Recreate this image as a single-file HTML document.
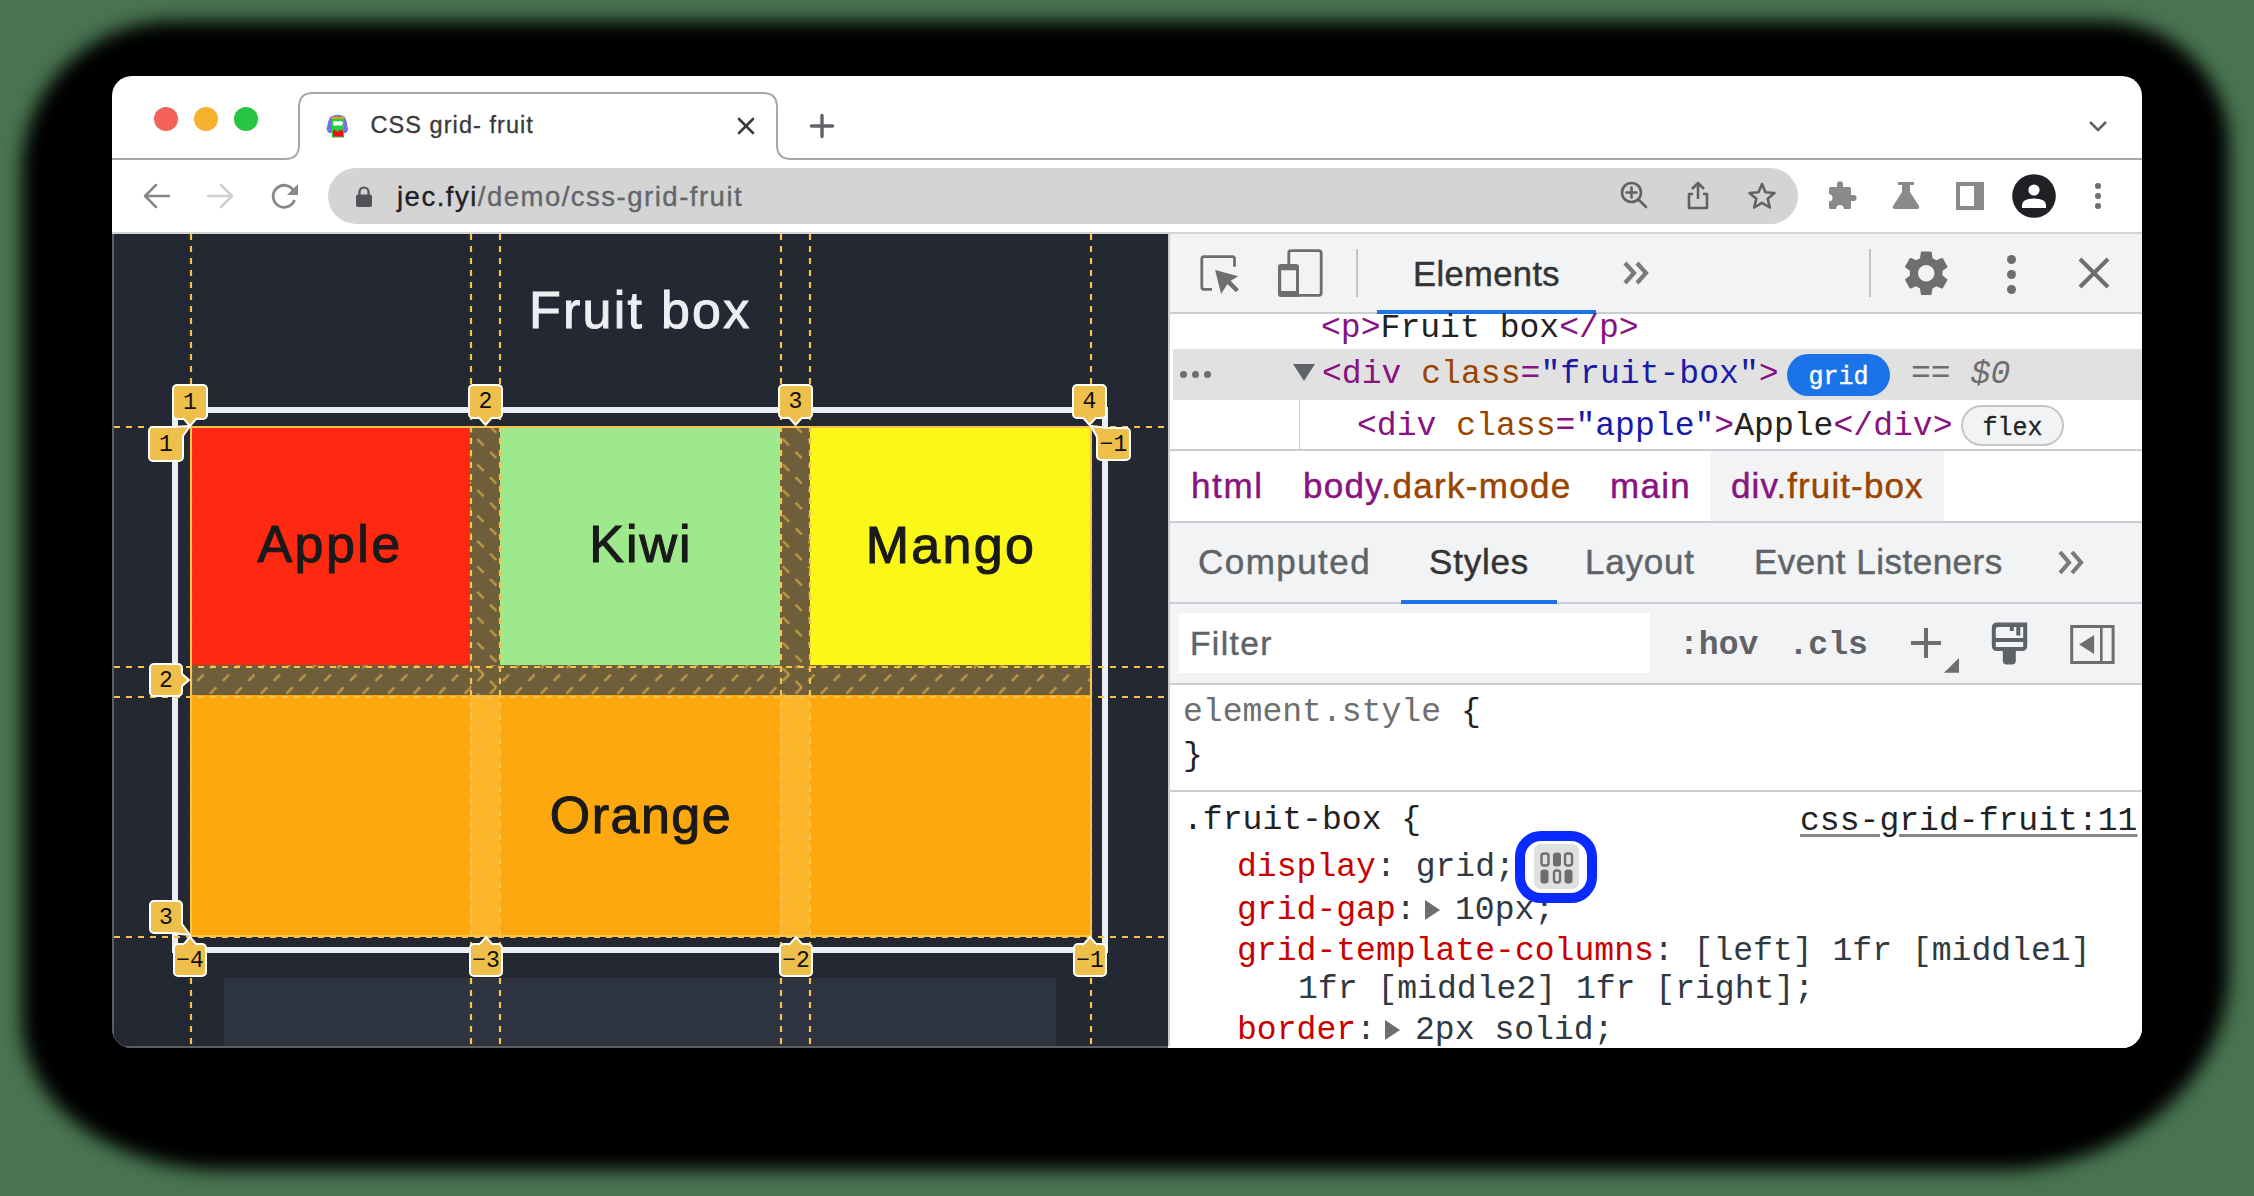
<!DOCTYPE html>
<html><head><meta charset="utf-8">
<style>
html,body{margin:0;padding:0;}
body{width:2254px;height:1196px;position:relative;overflow:hidden;background:#487450;font-family:'Liberation Sans', sans-serif;}
.t{position:absolute;white-space:pre;line-height:1;}
.r{position:absolute;}
svg{position:absolute;overflow:visible;}
#win{position:absolute;left:0;top:0;width:2254px;height:1196px;clip-path:inset(76px 112px 148px 112px round 20px);background:#fff;}
</style></head><body>
<div style="position:absolute;left:22px;top:21px;width:2207px;height:1149px;border-radius:150px 125px 230px 200px / 150px 125px 200px 150px;background:#000;filter:blur(9px);"></div><div id="win"><div class="r" style="left:154px;top:107px;width:24px;height:24px;border-radius:50%;background:#f2625a"></div><div class="r" style="left:194px;top:107px;width:24px;height:24px;border-radius:50%;background:#f6b12e"></div><div class="r" style="left:234px;top:107px;width:24px;height:24px;border-radius:50%;background:#28c540"></div><svg style="left:0;top:0" width="2254" height="240"><path d="M112 159 H285 Q299 159 299 145 V107 Q299 93 313 93 H763 Q777 93 777 107 V145 Q777 159 791 159 H2142" fill="none" stroke="#a7a7ab" stroke-width="2"/></svg><svg style="left:0;top:0" width="400" height="160">
<path d="M330 117 Q337.5 112.5 345 117 Q347 121 347.5 127 Q349 130 346 133 L329 133 Q325.5 130 327 127 Q328 121 330 117 Z" fill="#7272e0"/>
<rect x="331" y="116.5" width="13.5" height="2.5" fill="#d9a030"/>
<path d="M331.5 119 H344 V137.5 H332 Z" fill="#22d040"/>
<ellipse cx="335.6" cy="123.4" rx="2.6" ry="2.3" fill="#fff"/><ellipse cx="340.2" cy="123.4" rx="2.6" ry="2.3" fill="#fff"/>
<path d="M333 130.3 L335 130 L337.5 132 L340 130 L343 130.3 V136.5 H333 Z" fill="#f01010"/>
</svg><div class="t" style="left:370.50px;top:113.91px;font-size:23.5px;font-family:'Liberation Sans', sans-serif;color:#3b3b3b;letter-spacing:1.06px;-webkit-text-stroke:0.35px currentColor">CSS grid- fruit</div><svg style="left:738px;top:118px" width="16" height="16"><path d="M1 1 L15 15 M15 1 L1 15" stroke="#3a3a3a" stroke-width="2.6" stroke-linecap="round"/></svg><svg style="left:810px;top:114px" width="24" height="24"><path d="M12 1.5 V22.5 M1.5 12 H22.5" stroke="#5f6368" stroke-width="3.4" stroke-linecap="round"/></svg><svg style="left:2089px;top:121px" width="18" height="11"><path d="M1 1 L9 9 L17 1" fill="none" stroke="#5f6368" stroke-width="2.6"/></svg><svg style="left:143px;top:183px" width="27" height="26"><path d="M26 13 H3 M13 2 L2 13 L13 24" fill="none" stroke="#868686" stroke-width="2.5" stroke-linecap="round" stroke-linejoin="round"/></svg><svg style="left:207px;top:183px" width="27" height="26"><path d="M1 13 H24 M14 2 L25 13 L14 24" fill="none" stroke="#d0d0d0" stroke-width="2.5" stroke-linecap="round" stroke-linejoin="round"/></svg><svg style="left:270px;top:182px" width="30" height="28"><path d="M23.5 8.5 A11 11 0 1 0 24.5 18" fill="none" stroke="#888888" stroke-width="2.8"/><path d="M28 2 V13 H17 Z" fill="#888888"/></svg><div class="r" style="left:328px;top:168px;width:1470px;height:56px;background:#d4d4d4;border-radius:28px"></div><svg style="left:355px;top:185px" width="18" height="23"><path d="M4.5 10 V7 A4.5 4.5 0 0 1 13.5 7 V10" fill="none" stroke="#505359" stroke-width="2.2"/><rect x="1" y="9.5" width="16" height="12.5" rx="2" fill="#505359"/></svg><div class="t" style="left:397.00px;top:182.72px;font-size:27.5px;font-family:'Liberation Sans', sans-serif;color:#62666b;letter-spacing:1.5px;-webkit-text-stroke:0.35px currentColor"><span style="color:#202124">jec.fyi</span>/demo/css-grid-fruit</div><svg style="left:1620px;top:181px" width="29" height="30"><circle cx="11.5" cy="11.5" r="9.5" fill="none" stroke="#5f6368" stroke-width="2.6"/><path d="M18.5 18.5 L26 26 M11.5 6.5 V16.5 M6.5 11.5 H16.5" stroke="#5f6368" stroke-width="2.6" stroke-linecap="round"/></svg><svg style="left:1686px;top:181px" width="25" height="30"><path d="M12 2 V18 M6 8 L12 2 L18 8" fill="none" stroke="#5f6368" stroke-width="2.6" stroke-linejoin="round"/><path d="M7 13 H3 V27 H21 V13 H17" fill="none" stroke="#5f6368" stroke-width="2.6" stroke-linejoin="round"/></svg><svg style="left:1747px;top:181px" width="30" height="30"><path d="M15 3 L18.5 11.3 L27.5 12 L20.7 17.8 L22.8 26.5 L15 21.8 L7.2 26.5 L9.3 17.8 L2.5 12 L11.5 11.3 Z" fill="none" stroke="#5f6368" stroke-width="2.6" stroke-linejoin="round"/></svg><svg style="left:0;top:0" width="2254" height="240"><path d="M1829 188.5 Q1829 187 1830.5 187 H1837 V184.2 A3 3 0 0 1 1843 184.2 V187 H1849.5 Q1851 187 1851 188.5 V195 H1853.6 A3 3 0 0 1 1853.6 201 H1851 V207.5 Q1851 209 1849.5 209 H1843.9 A3.9 3.9 0 0 0 1836.1 209 H1830.5 Q1829 209 1829 207.5 V201.4 A3.55 3.55 0 0 0 1829 194.3 Z" fill="#8a8a8a"/></svg><svg style="left:1891px;top:181px" width="30" height="29"><path d="M7 1 H23 V4 H19 V11 L28 25 Q29 28 26 28 H4 Q1 28 2 25 L11 11 V4 H7 Z" fill="#8a8a8a"/></svg><svg style="left:0;top:0" width="2254" height="240"><path d="M1956 182 H1984 V210 H1956 Z M1960 186 V206 H1974 V186 Z" fill="#8a8a8a" fill-rule="evenodd"/></svg><svg style="left:2012px;top:174px" width="44" height="44"><circle cx="22" cy="22" r="21.8" fill="#202124"/><circle cx="22" cy="16" r="5.6" fill="#fff"/><path d="M10 31 Q10 24.5 22 24.5 Q34 24.5 34 31 V34 H10 Z" fill="#fff"/></svg><div class="r" style="left:2095px;top:183.2px;width:5.6px;height:5.6px;border-radius:50%;background:#6f6f6f"></div><div class="r" style="left:2095px;top:193.2px;width:5.6px;height:5.6px;border-radius:50%;background:#6f6f6f"></div><div class="r" style="left:2095px;top:203.2px;width:5.6px;height:5.6px;border-radius:50%;background:#6f6f6f"></div><div class="r" style="left:112px;top:232px;width:2030px;height:2px;background:#d3d3d3;"></div><div class="r" style="left:112px;top:234px;width:1056px;height:814px;background:#242833;"></div><div class="r" style="left:112px;top:234px;width:2px;height:814px;background:#5a5e66;"></div><div class="r" style="left:112px;top:1046px;width:1056px;height:2px;background:#5a5e66;"></div><div class="t" style="left:529.00px;top:283.68px;font-size:52px;font-family:'Liberation Sans', sans-serif;color:#eeeef2;letter-spacing:2.25px;-webkit-text-stroke:1px #eeeef2">Fruit box</div><div class="r" style="left:224px;top:978px;width:832px;height:68px;background:#2e3340;"></div><div class="r" style="left:172px;top:407px;width:924px;height:534px;border:6px solid #eceef3"></div><div class="r" style="left:190px;top:426px;width:280px;height:239px;background:#ff2810;"></div><div class="r" style="left:500px;top:426px;width:280px;height:239px;background:#9de98b;"></div><div class="r" style="left:810px;top:426px;width:281px;height:239px;background:#fbf719;"></div><div class="r" style="left:190px;top:695px;width:901px;height:240px;background:#fda80f;"></div><div class="t" style="left:-70px;width:800px;text-align:center;top:518.48px;font-size:52px;color:#1a1a1a;letter-spacing:2.4px;-webkit-text-stroke:1.1px #1a1a1a">Apple</div><div class="t" style="left:241px;width:800px;text-align:center;top:517.98px;font-size:52px;color:#1a1a1a;letter-spacing:2px;-webkit-text-stroke:1.1px #1a1a1a">Kiwi</div><div class="t" style="left:551px;width:800px;text-align:center;top:518.98px;font-size:52px;color:#1a1a1a;letter-spacing:2.3px;-webkit-text-stroke:1.1px #1a1a1a">Mango</div><div class="t" style="left:241px;width:800px;text-align:center;top:788.68px;font-size:52px;color:#1a1a1a;letter-spacing:1.5px;-webkit-text-stroke:1.1px #1a1a1a">Orange</div><div class="r" style="left:470px;top:426px;width:30px;height:239px;background:rgba(240,190,70,0.36);"></div><div class="r" style="left:780px;top:426px;width:30px;height:239px;background:rgba(240,190,70,0.36);"></div><div class="r" style="left:190px;top:665px;width:901px;height:30px;background:rgba(240,190,70,0.36);"></div><div class="r" style="left:470px;top:695px;width:30px;height:240px;background:rgba(255,215,110,0.28);"></div><div class="r" style="left:780px;top:695px;width:30px;height:240px;background:rgba(255,215,110,0.28);"></div><svg style="left:0;top:0" width="2254" height="1196">
<defs>
<pattern id="hc" width="18" height="18" patternUnits="userSpaceOnUse" patternTransform="rotate(45)">
<line x1="0" y1="9" x2="18" y2="9" stroke="rgba(240,190,80,0.6)" stroke-width="2.4" stroke-dasharray="9 9"/></pattern>
<pattern id="hr" width="18" height="18" patternUnits="userSpaceOnUse" patternTransform="rotate(-45)">
<line x1="0" y1="9" x2="18" y2="9" stroke="rgba(240,190,80,0.6)" stroke-width="2.4" stroke-dasharray="9 9"/></pattern>
</defs>
<rect x="470" y="426" width="30" height="509" fill="url(#hc)"/>
<rect x="780" y="426" width="30" height="509" fill="url(#hc)"/>
<rect x="190" y="665" width="901" height="30" fill="url(#hr)"/>
</svg><svg style="left:0;top:0" width="2254" height="1196"><line x1="191" y1="234" x2="191" y2="1046" stroke="#f5c24a" stroke-width="2.2" stroke-dasharray="6 6"/><line x1="471" y1="234" x2="471" y2="1046" stroke="#f5c24a" stroke-width="2.2" stroke-dasharray="6 6"/><line x1="500" y1="234" x2="500" y2="1046" stroke="#f5c24a" stroke-width="2.2" stroke-dasharray="6 6"/><line x1="781" y1="234" x2="781" y2="1046" stroke="#f5c24a" stroke-width="2.2" stroke-dasharray="6 6"/><line x1="810" y1="234" x2="810" y2="1046" stroke="#f5c24a" stroke-width="2.2" stroke-dasharray="6 6"/><line x1="1091" y1="234" x2="1091" y2="1046" stroke="#f5c24a" stroke-width="2.2" stroke-dasharray="6 6"/><line x1="114" y1="427" x2="1168" y2="427" stroke="#f5c24a" stroke-width="2.2" stroke-dasharray="6 6"/><line x1="114" y1="667" x2="1168" y2="667" stroke="#f5c24a" stroke-width="2.2" stroke-dasharray="6 6"/><line x1="114" y1="697" x2="1168" y2="697" stroke="#f5c24a" stroke-width="2.2" stroke-dasharray="6 6"/><line x1="114" y1="937" x2="1168" y2="937" stroke="#f5c24a" stroke-width="2.2" stroke-dasharray="6 6"/><rect x="191" y="427" width="900" height="509" fill="none" stroke="#f5c24a" stroke-width="2"/></svg><div class="r" style="left:172px;top:384px;width:32px;height:32px;background:#efbf4c;border:2px solid #fff;border-radius:5px;"></div><svg style="left:0;top:0" width="2254" height="1196"><path d="M183.0 418 L190.0 426 L197.0 418" fill="#efbf4c" stroke="#fff" stroke-width="2"/><rect x="184.0" y="415" width="12" height="3.5" fill="#efbf4c"/></svg><div class="t" style="left:172px;width:36px;text-align:center;top:390.70px;font-size:23px;font-family:'Liberation Mono', monospace;color:#111;line-height:1.1">1</div><div class="r" style="left:468px;top:384px;width:31px;height:31px;background:#efbf4c;border:2px solid #fff;border-radius:5px;"></div><svg style="left:0;top:0" width="2254" height="1196"><path d="M478.5 417 L485.5 425 L492.5 417" fill="#efbf4c" stroke="#fff" stroke-width="2"/><rect x="479.5" y="414" width="12" height="3.5" fill="#efbf4c"/></svg><div class="t" style="left:468px;width:35px;text-align:center;top:390.20px;font-size:23px;font-family:'Liberation Mono', monospace;color:#111;line-height:1.1">2</div><div class="r" style="left:778px;top:384px;width:31px;height:31px;background:#efbf4c;border:2px solid #fff;border-radius:5px;"></div><svg style="left:0;top:0" width="2254" height="1196"><path d="M788.5 417 L795.5 425 L802.5 417" fill="#efbf4c" stroke="#fff" stroke-width="2"/><rect x="789.5" y="414" width="12" height="3.5" fill="#efbf4c"/></svg><div class="t" style="left:778px;width:35px;text-align:center;top:390.20px;font-size:23px;font-family:'Liberation Mono', monospace;color:#111;line-height:1.1">3</div><div class="r" style="left:1072px;top:384px;width:31px;height:31px;background:#efbf4c;border:2px solid #fff;border-radius:5px;"></div><svg style="left:0;top:0" width="2254" height="1196"><path d="M1082.5 417 L1089.5 425 L1096.5 417" fill="#efbf4c" stroke="#fff" stroke-width="2"/><rect x="1083.5" y="414" width="12" height="3.5" fill="#efbf4c"/></svg><div class="t" style="left:1072px;width:35px;text-align:center;top:390.20px;font-size:23px;font-family:'Liberation Mono', monospace;color:#111;line-height:1.1">4</div><div class="r" style="left:148px;top:426px;width:32px;height:32px;background:#efbf4c;border:2px solid #fff;border-radius:5px;"></div><svg style="left:0;top:0" width="2254" height="1196"><path d="M172 427 L190 426 L183 436" fill="#efbf4c" stroke="#fff" stroke-width="2" stroke-linejoin="round"/></svg><div class="t" style="left:148px;width:36px;text-align:center;top:432.70px;font-size:23px;font-family:'Liberation Mono', monospace;color:#111;line-height:1.1">1</div><div class="r" style="left:149px;top:663px;width:30px;height:30px;background:#efbf4c;border:2px solid #fff;border-radius:5px;"></div><svg style="left:0;top:0" width="2254" height="1196"><path d="M181 673.0 L189 680.0 L181 687.0" fill="#efbf4c" stroke="#fff" stroke-width="2"/><rect x="178" y="674.0" width="3.5" height="12" fill="#efbf4c"/></svg><div class="t" style="left:149px;width:34px;text-align:center;top:668.70px;font-size:23px;font-family:'Liberation Mono', monospace;color:#111;line-height:1.1">2</div><div class="r" style="left:149px;top:900px;width:30px;height:30px;background:#efbf4c;border:2px solid #fff;border-radius:5px;"></div><svg style="left:0;top:0" width="2254" height="1196"><path d="M171 933 L190 935 L182 924" fill="#efbf4c" stroke="#fff" stroke-width="2" stroke-linejoin="round"/></svg><div class="t" style="left:149px;width:34px;text-align:center;top:905.70px;font-size:23px;font-family:'Liberation Mono', monospace;color:#111;line-height:1.1">3</div><div class="r" style="left:1096px;top:427px;width:31px;height:30px;background:#efbf4c;border:2px solid #fff;border-radius:5px;"></div><svg style="left:0;top:0" width="2254" height="1196"><path d="M1108 428 L1091 426 L1097 437" fill="#efbf4c" stroke="#fff" stroke-width="2" stroke-linejoin="round"/></svg><div class="t" style="left:1096px;width:35px;text-align:center;top:432.70px;font-size:23px;font-family:'Liberation Mono', monospace;color:#111;line-height:1.1">&minus;1</div><div class="r" style="left:173px;top:943px;width:30px;height:30px;background:#efbf4c;border:2px solid #fff;border-radius:5px;"></div><svg style="left:0;top:0" width="2254" height="1196"><path d="M183.0 945 L190.0 937 L197.0 945" fill="#efbf4c" stroke="#fff" stroke-width="2"/><rect x="184.0" y="944.5" width="12" height="3.5" fill="#efbf4c"/></svg><div class="t" style="left:173px;width:34px;text-align:center;top:948.70px;font-size:23px;font-family:'Liberation Mono', monospace;color:#111;line-height:1.1">&minus;4</div><div class="r" style="left:469px;top:943px;width:30px;height:30px;background:#efbf4c;border:2px solid #fff;border-radius:5px;"></div><svg style="left:0;top:0" width="2254" height="1196"><path d="M479.0 945 L486.0 937 L493.0 945" fill="#efbf4c" stroke="#fff" stroke-width="2"/><rect x="480.0" y="944.5" width="12" height="3.5" fill="#efbf4c"/></svg><div class="t" style="left:469px;width:34px;text-align:center;top:948.70px;font-size:23px;font-family:'Liberation Mono', monospace;color:#111;line-height:1.1">&minus;3</div><div class="r" style="left:779px;top:943px;width:30px;height:30px;background:#efbf4c;border:2px solid #fff;border-radius:5px;"></div><svg style="left:0;top:0" width="2254" height="1196"><path d="M789.0 945 L796.0 937 L803.0 945" fill="#efbf4c" stroke="#fff" stroke-width="2"/><rect x="790.0" y="944.5" width="12" height="3.5" fill="#efbf4c"/></svg><div class="t" style="left:779px;width:34px;text-align:center;top:948.70px;font-size:23px;font-family:'Liberation Mono', monospace;color:#111;line-height:1.1">&minus;2</div><div class="r" style="left:1073px;top:943px;width:30px;height:30px;background:#efbf4c;border:2px solid #fff;border-radius:5px;"></div><svg style="left:0;top:0" width="2254" height="1196"><path d="M1083.0 945 L1090.0 937 L1097.0 945" fill="#efbf4c" stroke="#fff" stroke-width="2"/><rect x="1084.0" y="944.5" width="12" height="3.5" fill="#efbf4c"/></svg><div class="t" style="left:1073px;width:34px;text-align:center;top:948.70px;font-size:23px;font-family:'Liberation Mono', monospace;color:#111;line-height:1.1">&minus;1</div><div class="r" style="left:1168px;top:234px;width:2px;height:812px;background:#cbcdd1;"></div><div class="r" style="left:1170px;top:234px;width:972px;height:814px;background:#ffffff;"></div><div class="r" style="left:1170px;top:234px;width:972px;height:78px;background:#f1f3f4;"></div><div class="r" style="left:1170px;top:312px;width:972px;height:2px;background:#cacdd1;"></div><svg style="left:0;top:0" width="2254" height="400">
<path d="M1212 289.3 H1204 Q1201.8 289.3 1201.8 287.1 V258.8 Q1201.8 256.6 1204 256.6 H1232.3 Q1234.5 256.6 1234.5 258.8 V266.8" fill="none" stroke="#6e6e6e" stroke-width="2.8"/>
<path d="M1215.1 270 L1238.3 276.3 L1230.6 280.8 L1238.9 289.3 L1235.9 292.3 L1227.4 283.9 L1221.1 293.9 Z" fill="#6e6e6e"/>
<path d="M1288.8 264.5 V252.2 Q1288.8 250.6 1291.8 250.6 H1318.8 Q1321.2 250.6 1321.2 253 V292.9 Q1321.2 295.3 1318.8 295.3 H1298" fill="none" stroke="#6e6e6e" stroke-width="2.8"/>
<path d="M1281 264 H1296 Q1299 264 1299 267 V297 H1281 Q1278 297 1278 294 V267 Q1278 264 1281 264 Z M1281.2 270.2 V290.9 H1296 V270.2 Z" fill="#6e6e6e" fill-rule="evenodd"/>
</svg><div class="r" style="left:1356px;top:249px;width:2px;height:48px;background:#c4c4c4;"></div><div class="t" style="left:1413.00px;top:256.80px;font-size:34.5px;font-family:'Liberation Sans', sans-serif;color:#333333;letter-spacing:0.4px;-webkit-text-stroke:0.45px #333">Elements</div><div class="r" style="left:1377px;top:310px;width:219px;height:4px;background:#1a73e8;"></div><svg style="left:1622px;top:261px" width="28" height="25"><path d="M3 2 L12 12 L3 22 M15 2 L24 12 L15 22" fill="none" stroke="#7a7a7a" stroke-width="4.2"/></svg><div class="r" style="left:1869px;top:249px;width:2px;height:48px;background:#c4c4c4;"></div><svg style="left:1898.75px;top:245.75px" width="54.5" height="54.5" viewBox="0 0 24 24"><path fill="#6e6e6e" d="M19.14 12.94c.04-.3.06-.61.06-.94 0-.32-.02-.64-.07-.94l2.03-1.58a.49.49 0 0 0 .12-.61l-1.92-3.32a.488.488 0 0 0-.59-.22l-2.39.96c-.5-.38-1.03-.7-1.62-.94l-.36-2.54a.484.484 0 0 0-.48-.41h-3.84c-.24 0-.43.17-.47.41l-.36 2.54c-.59.24-1.13.57-1.62.94l-2.39-.96c-.22-.08-.47 0-.59.22L2.74 8.87c-.12.21-.08.47.12.61l2.03 1.58c-.05.3-.09.63-.09.94s.02.64.07.94l-2.03 1.58a.49.49 0 0 0-.12.61l1.92 3.32c.12.22.37.29.59.22l2.39-.96c.5.38 1.03.7 1.62.94l.36 2.54c.05.24.24.41.48.41h3.84c.24 0 .44-.17.47-.41l.36-2.54c.59-.24 1.13-.56 1.62-.94l2.39.96c.22.08.47 0 .59-.22l1.92-3.32c.12-.22.07-.47-.12-.61l-2.01-1.58zM12 15.6c-1.98 0-3.6-1.62-3.6-3.6s1.62-3.6 3.6-3.6 3.6 1.62 3.6 3.6-1.62 3.6-3.6 3.6z"/></svg><div class="r" style="left:2006.5px;top:255.0px;width:9px;height:9px;border-radius:50%;background:#6e6e6e"></div><div class="r" style="left:2006.5px;top:270.0px;width:9px;height:9px;border-radius:50%;background:#6e6e6e"></div><div class="r" style="left:2006.5px;top:285.0px;width:9px;height:9px;border-radius:50%;background:#6e6e6e"></div><svg style="left:2078px;top:257px" width="32" height="32"><path d="M2 2 L30 30 M30 2 L2 30" stroke="#6e6e6e" stroke-width="4"/></svg><div class="t" style="left:1321.00px;top:312.23px;font-size:33.1px;font-family:'Liberation Mono', monospace;color:#222222;"><span style="color:#881280">&lt;p&gt;</span>Fruit box<span style="color:#881280">&lt;/p&gt;</span></div><div class="r" style="left:1173px;top:349px;width:969px;height:51px;background:#e1e1e1;"></div><div class="r" style="left:1179.7px;top:371px;width:7px;height:7px;border-radius:50%;background:#6e6e6e"></div><div class="r" style="left:1191.7px;top:371px;width:7px;height:7px;border-radius:50%;background:#6e6e6e"></div><div class="r" style="left:1203.6px;top:371px;width:7px;height:7px;border-radius:50%;background:#6e6e6e"></div><svg style="left:1292px;top:363px" width="24" height="19"><path d="M1 1 H23 L12 18 Z" fill="#5f6368"/></svg><div class="t" style="left:1322.00px;top:357.63px;font-size:33.1px;font-family:'Liberation Mono', monospace;color:#222222;"><span style="color:#881280">&lt;div</span> <span style="color:#994500">class</span><span style="color:#881280">=</span><span style="color:#1a1aa6">"fruit-box"</span><span style="color:#881280">&gt;</span></div><div class="r" style="left:1787px;top:354px;width:103px;height:42px;background:#1a73e8;border-radius:21px"></div><div class="t" style="left:1787px;width:103px;text-align:center;top:364.64px;font-size:25px;font-family:'Liberation Mono', monospace;color:#fff;-webkit-text-stroke:0.4px #fff">grid</div><div class="t" style="left:1911.00px;top:357.63px;font-size:33.1px;font-family:'Liberation Mono', monospace;color:#6e6e6e;">== <i>$0</i></div><div class="r" style="left:1299px;top:400px;width:1px;height:49px;background:#c8c8e0;"></div><div class="t" style="left:1357.00px;top:409.63px;font-size:33.1px;font-family:'Liberation Mono', monospace;color:#222222;"><span style="color:#881280">&lt;div</span> <span style="color:#994500">class</span><span style="color:#881280">=</span><span style="color:#1a1aa6">"apple"</span><span style="color:#881280">&gt;</span>Apple<span style="color:#881280">&lt;/div&gt;</span></div><div class="r" style="left:1961px;top:405px;width:99px;height:37px;border:2px solid #c6c6c6;border-radius:21px;background:#f1f3f4"></div><div class="t" style="left:1961px;width:103px;text-align:center;top:415.64px;font-size:25px;font-family:'Liberation Mono', monospace;color:#222;-webkit-text-stroke:0.3px #222">flex</div><div class="r" style="left:1170px;top:449px;width:972px;height:2px;background:#cacdd1;"></div><div class="r" style="left:1710px;top:451px;width:234px;height:70px;background:#f1f3f4;"></div><div class="t" style="left:1191.00px;top:468.37px;font-size:35px;font-family:'Liberation Sans', sans-serif;color:#881280;letter-spacing:1.6px;-webkit-text-stroke:0.45px currentColor">html</div><div class="t" style="left:1303.00px;top:468.37px;font-size:35px;font-family:'Liberation Sans', sans-serif;color:#881280;letter-spacing:1.3px;-webkit-text-stroke:0.45px currentColor">body<span style="color:#994500">.dark-mode</span></div><div class="t" style="left:1610.00px;top:468.37px;font-size:35px;font-family:'Liberation Sans', sans-serif;color:#881280;letter-spacing:1.3px;-webkit-text-stroke:0.45px currentColor">main</div><div class="t" style="left:1731.00px;top:468.37px;font-size:35px;font-family:'Liberation Sans', sans-serif;color:#881280;letter-spacing:1.1px;-webkit-text-stroke:0.45px currentColor">div<span style="color:#994500">.fruit-box</span></div><div class="r" style="left:1170px;top:521px;width:972px;height:2px;background:#cacdd1;"></div><div class="r" style="left:1170px;top:523px;width:972px;height:79px;background:#f1f3f4;"></div><div class="t" style="left:1198.00px;top:544.37px;font-size:35px;font-family:'Liberation Sans', sans-serif;color:#5f6368;letter-spacing:1.45px;-webkit-text-stroke:0.45px currentColor">Computed</div><div class="t" style="left:1429.00px;top:544.37px;font-size:35px;font-family:'Liberation Sans', sans-serif;color:#333333;letter-spacing:0.8px;-webkit-text-stroke:0.45px currentColor">Styles</div><div class="t" style="left:1585.00px;top:544.37px;font-size:35px;font-family:'Liberation Sans', sans-serif;color:#5f6368;letter-spacing:0.8px;-webkit-text-stroke:0.45px currentColor">Layout</div><div class="t" style="left:1754.00px;top:544.37px;font-size:35px;font-family:'Liberation Sans', sans-serif;color:#5f6368;letter-spacing:0.5px;-webkit-text-stroke:0.45px currentColor">Event Listeners</div><svg style="left:2057px;top:550px" width="29" height="26"><path d="M3 2 L12 12.5 L3 23 M15 2 L24 12.5 L15 23" fill="none" stroke="#7a7a7a" stroke-width="4.2"/></svg><div class="r" style="left:1170px;top:602px;width:972px;height:2px;background:#cacdd1;"></div><div class="r" style="left:1401px;top:600px;width:156px;height:4px;background:#1a73e8;"></div><div class="r" style="left:1170px;top:604px;width:972px;height:79px;background:#f1f3f4;"></div><div class="r" style="left:1179px;top:613px;width:471px;height:60px;background:#ffffff;"></div><div class="t" style="left:1190.00px;top:626.64px;font-size:33.5px;font-family:'Liberation Sans', sans-serif;color:#5f6368;letter-spacing:1.4px;-webkit-text-stroke:0.45px currentColor">Filter</div><div class="t" style="left:1679.00px;top:628.63px;font-size:33.1px;font-family:'Liberation Mono', monospace;color:#5f6368;font-weight:bold">:hov</div><div class="t" style="left:1788.50px;top:628.63px;font-size:33.1px;font-family:'Liberation Mono', monospace;color:#5f6368;font-weight:bold">.cls</div><svg style="left:0;top:0" width="2254" height="700">
<path d="M1926 628 V658 M1911 643 H1941" stroke="#6e6e6e" stroke-width="4"/>
<path d="M1944 672.7 L1959 658 V672.7 Z" fill="#6e6e6e"/>
<path d="M1991.8 628 Q1991.8 622.5 1997.3 622.5 H2027.2 V645.5 Q2027.2 651 2021.7 651 H1997.3 Q1991.8 651 1991.8 645.5 Z M1995.8 629 Q1995.8 627 1998 627 H2009.8 V631 H2013.8 V627 H2016.3 V635.5 H2020.3 V627 H2023.2 V638 H1995.8 Z M1995.8 642 H2023.2 V647 H1995.8 Z" fill="#5f6368" fill-rule="evenodd"/>
<path d="M2002.8 650 H2015.8 V660.4 Q2015.8 664.4 2011.8 664.4 H2006.8 Q2002.8 664.4 2002.8 660.4 Z" fill="#5f6368"/>
<path d="M2070.2 625 H2114.6 V664 H2070.2 Z M2073.2 628 V661 H2100 V628 Z M2102.6 628 V661 H2111.6 V628 Z" fill="#6e6e6e" fill-rule="evenodd"/>
<path d="M2079.1 644.4 L2094.1 635 V654 Z" fill="#6e6e6e"/>
</svg><div class="r" style="left:1170px;top:683px;width:972px;height:2px;background:#cacdd1;"></div><div class="t" style="left:1183.00px;top:695.63px;font-size:33.1px;font-family:'Liberation Mono', monospace;color:#222222;"><span style="color:#6e6e6e">element.style</span> {</div><div class="t" style="left:1183.00px;top:739.63px;font-size:33.1px;font-family:'Liberation Mono', monospace;color:#222222;">}</div><div class="r" style="left:1170px;top:790px;width:972px;height:2px;background:#cacdd1;"></div><div class="t" style="left:1183.00px;top:803.63px;font-size:33.1px;font-family:'Liberation Mono', monospace;color:#222222;">.fruit-box {</div><div class="t" style="left:1800.00px;top:804.63px;font-size:33.1px;font-family:'Liberation Mono', monospace;color:#222222;text-decoration:underline;text-decoration-color:#888;text-underline-offset:4px">css-grid-fruit:11</div><div class="t" style="left:1237.00px;top:851.03px;font-size:33.1px;font-family:'Liberation Mono', monospace;color:#303942;"><span style="color:#c80000">display</span>: grid;</div><div class="t" style="left:1237.00px;top:893.63px;font-size:33.1px;font-family:'Liberation Mono', monospace;color:#303942;"><span style="color:#c80000">grid-gap</span>:</div><div class="t" style="left:1455.00px;top:893.63px;font-size:33.1px;font-family:'Liberation Mono', monospace;color:#303942;">10px;</div><svg style="left:1424px;top:899px" width="18" height="22"><path d="M1 1 V21 L16 11 Z" fill="#6e6e6e"/></svg><div class="t" style="left:1237.00px;top:934.63px;font-size:33.1px;font-family:'Liberation Mono', monospace;color:#303942;"><span style="color:#c80000">grid-template-columns</span>: [left] 1fr [middle1]</div><div class="t" style="left:1298.00px;top:973.23px;font-size:33.1px;font-family:'Liberation Mono', monospace;color:#303942;">1fr [middle2] 1fr [right];</div><div class="t" style="left:1237.00px;top:1013.63px;font-size:33.1px;font-family:'Liberation Mono', monospace;color:#303942;"><span style="color:#c80000">border</span>:</div><div class="t" style="left:1415.00px;top:1013.63px;font-size:33.1px;font-family:'Liberation Mono', monospace;color:#303942;">2px solid;</div><svg style="left:1384px;top:1019px" width="18" height="22"><path d="M1 1 V21 L16 11 Z" fill="#6e6e6e"/></svg><div class="r" style="left:1515px;top:831px;width:62px;height:52px;border:10px solid #0a2bff;border-radius:26px"></div><div class="r" style="left:1534px;top:844px;width:45px;height:45px;background:#e0e0e0;border-radius:7px"></div><svg style="left:1534px;top:844px" width="45" height="45"><rect x="7.5" y="9.5" width="7" height="12" rx="2.5" fill="none" stroke="#6e6e6e" stroke-width="2.4"/><rect x="19" y="8.5" width="8" height="14" rx="3" fill="#6e6e6e"/><rect x="31" y="9.5" width="7" height="12" rx="2.5" fill="none" stroke="#6e6e6e" stroke-width="2.4"/><rect x="6.5" y="25.5" width="8" height="14" rx="3" fill="#6e6e6e"/><rect x="20" y="26.5" width="6" height="12" rx="2.5" fill="none" stroke="#6e6e6e" stroke-width="2.4"/><rect x="30.5" y="25.5" width="8" height="14" rx="3" fill="#6e6e6e"/></svg></div>
</body></html>
